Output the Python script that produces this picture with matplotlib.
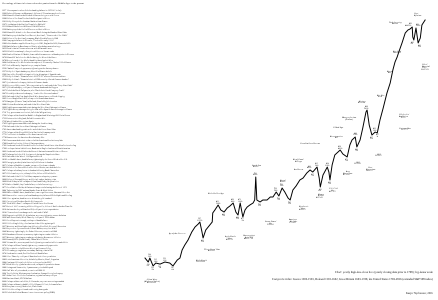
import numpy as np
from matplotlib import pyplot as plt

plt.rcParams['font.family'] = ['Liberation Serif', 'DejaVu Serif']
plt.rcParams['text.hinting'] = 'no_hinting'

W, H = 439, 300

title = "Chronology of financial crises and market panics from the Middle Ages to the present"

entries = [
    "1257 \"Overexpansion of credit led to banking failures in 1255-62\" in Italy",
    "1260 Defeat of Florence at Montaperti; failures of Florentine merchant houses",
    "1294 Edward I default to the Riccardi of Lucca during war with France",
    "1298 Failure of the Gran Tavola of the Bonsignori of Siena",
    "1301 Philip IV expels the Lombard bankers from France",
    "1307 Liquidation of the Knights Templar by Philip IV",
    "1311 Edward II default to the Frescobaldi of Florence",
    "1326 Bankruptcy of the Scali of Florence and Asti of Siena",
    "1340 Edward III default to the Peruzzi and Bardi during the Hundred Years' War",
    "1343 Bankruptcy of the Bardi and Peruzzi; Acciaiuoli, \"Great crash of the 1340s\"",
    "1346 Failure of the Acciaiuoli company; Black Death follows in 1348",
    "1360 Compagnie failures in Florence, \"Crash of the early 1360s\"",
    "1380 Italian bankers expelled from Aragon in 1381, England in 1403, France in 1410",
    "1399 Bank failures in Barcelona and Venice after debasement of coinage",
    "1433 Fiscal crisis in Florence after war with Milan and Lucca",
    "1453 Fall of Constantinople; disruption of Genoese Levant trade",
    "1464 Death of Cosimo de' Medici; loans called in cause wave of bankruptcies in Florence",
    "1470 Edward IV default to the Medici during the Wars of the Roses",
    "1478 Bruges branch of the Medici bank liquidated on bad debts",
    "1494 Overthrow of the Medici after the capture of Florence by Charles VIII of France",
    "1527 Sack of Rome by Imperial troops; coup in Genoa",
    "1539 Charles V suspends payments; tightening on the Antwerp bourse",
    "1557 Philip II of Spain bankruptcy; Henri II of France default",
    "1566 Start of the Dutch Revolt against Spain; disruption of Spanish trade",
    "1575 Philip II default: \"Financial crisis of 1575-76\" affected Genoese creditors",
    "1596 Philip II default: \"Financial crisis of 1596 severely affected Genoese bankers\"",
    "1607 Spanish state bankruptcy; failure of Genoese banks",
    "1619 Kipper und Wipperzeit: \"Monetary crisis at the outbreak of the Thirty Years' War\"",
    "1627 Spanish bankruptcy; collapse of Genoese banks and the Fuggers",
    "1637 End of the Dutch Tulipmania; also \"Dutch Joint Stock Company Crash\"",
    "1647 Fourth Spanish state bankruptcy; \"crushed the Genoese bankers\"",
    "1652 Outbreak of the First Anglo-Dutch War; heavy losses on Dutch shipping",
    "1665 Second Anglo-Dutch War; slump on the Amsterdam bourse",
    "1672 Rampjaar (Disaster Year) in Holland; French-English invasion",
    "1688 Glorious Revolution; outbreak of the Nine Years' War",
    "1696 English government debt crisis during the Nine Years' War against France",
    "1701 English money shortage during the War of the Spanish Succession against France",
    "1710 Tory government credit crisis; fall of the Whig ministry",
    "1720 Collapse of the South Sea Bubble in England and Mississippi Bubble in France",
    "1733 Excise crisis in England; Polish Succession War",
    "1739 War of Jenkins' Ear against Spain",
    "1745 English government debt crisis during the Jacobite rising",
    "1756 Outbreak of the Seven Years' War against France",
    "1763 Amsterdam banking crisis at the end of the Seven Years' War",
    "1772 Collapse of the Bengal Bubble in East India Company stock",
    "1773 Credit crisis in London and the American colonies",
    "1778 France enters the American Revolutionary War",
    "1783 Government debt crisis at the end of the American Revolutionary War",
    "1788 French fiscal crisis; failure of Paris speculators",
    "1792 Stocks and bonds fell in the First Panic of the United States after Hamilton's refunding",
    "1796 Land speculation bubble burst; Bank run in England on fear of French invasion",
    "1802 Stocks and bonds fell after the Peace of Amiens between Britain and France",
    "1807 Embargo Act halts U.S. foreign trade during the Napoleonic Wars",
    "1812 Outbreak of the War of 1812 against Britain",
    "1819 Land bubble burst; bank failures; tightening by the Second Bank of the U.S.",
    "1825 Emerging market (Latin America) bubble burst in London",
    "1837 Collapse of bubbles in canals, cotton and land; run on banks",
    "1841 Failure of the Second Bank of the United States; state debt defaults",
    "1847 Collapse of railway boom in London following Bank Charter Act",
    "1857 Global market panic; railway bubble; failure of Ohio Life Co.",
    "1861 Outbreak of the U.S. Civil War; suspension of specie payments",
    "1866 Failure of Overend Gurney and Co. in London; banking crisis",
    "1869 Black Friday in NY: collapse of Gould and Fisk gold speculation",
    "1873 Railroad bubble; Jay Cooke failure; end of silver coinage",
    "1877 Great Railroad Strike; deflation and wage cuts following the Panic of 1873",
    "1884 Tightening by NYC national banks; Grant & Ward failure",
    "1890 Railroad bubble burst; bank failures; run on gold reserves; Sherman Silver Act",
    "1893 Run on silver reserves; railroad bankruptcies; failure of Philadelphia and Reading",
    "1896 Silver agitation; bond issues to defend the gold standard",
    "1901 Cornering of Northern Pacific Railway stock",
    "1903 \"Rich Man's Panic\": collapse of United States Steel boom",
    "1907 Panic of 1907: cornering of United Copper Co; failure of Knickerbocker Trust Co.",
    "1910 Antitrust breakup of Standard Oil; collapse of cotton speculation",
    "1914 Closure of stock exchanges at the outbreak of WW1",
    "1920 Depression of 1920-21: disinflation, monetary tightening, severe deflation",
    "1929 Wall Street Crash, Black Thursday: collapse of 1920s boom",
    "1931 Great Depression trough; widespread bank failures",
    "1933 U.S. banking holiday; devaluation of the dollar against gold",
    "1937 Monetary and fiscal tightening following New Deal; Roosevelt Recession",
    "1941 Response to Japanese attack on Pearl Harbor; entry into WW2",
    "1946 Monetary tightening by the Federal Reserve; recession of 1949",
    "1953 Eisenhower Recession; monetary tightening to combat inflation",
    "1957 Monetary tightening to combat growth during Korean war inflation",
    "1962 Kennedy Slide (Flash Crash); Cuban Missile Crisis",
    "1966 Vietnam War; monetary and fiscal tightening to combat inflation and deficit",
    "1970 Collapse of Penn Central; tight money; commercial paper crisis",
    "1971 Nixon shock: end of Bretton Woods gold convertibility",
    "1973 Oil embargo; stagflation; secondary banking crisis in UK",
    "1974 Stock market crash; Franklin National Bank failure",
    "1980 Silver Thursday: collapse of Hunt brothers' silver speculation",
    "1982 Latin American debt crisis; defaults by Mexico, Brazil, Argentina",
    "1984 Continental Illinois bank failure and rescue by the FDIC",
    "1987 Black Monday: global market crash; collapse of speculative boom",
    "1989 Savings and Loan crisis; Japanese asset price bubble peak",
    "1990 Gulf War: oil price shock; recession of 1990-91",
    "1994 Tequila Crisis: Mexican peso devaluation; Orange County bankruptcy",
    "1997 Asian Crisis: Thai baht devaluation; regional currency collapse",
    "1998 Russian default; LTCM bailout",
    "2000 Collapse of dotcom bubble; 9/11 attacks; corporate accounting scandals",
    "2008 Collapse of housing bubble; Global Financial Crisis; Lehman failure",
    "2010 European sovereign debt crisis; Flash Crash",
    "2011 U.S. debt ceiling crisis and credit rating downgrade",
    "2015 End of the Federal Reserve's zero interest rate policy (ZIRP)",
]

# composite index (log scale)
years = [1495, 1501, 1504, 1510, 1515, 1523, 1532, 1541, 1547, 1555, 1560, 1564,
         1569, 1575, 1582, 1588, 1594, 1597, 1601, 1603, 1608, 1614, 1620, 1621,
         1625, 1631, 1636, 1642, 1648, 1653, 1659, 1664, 1668, 1672, 1677, 1681,
         1685, 1690, 1696, 1699, 1701, 1703, 1709, 1714, 1722, 1728, 1733, 1739,
         1744, 1750, 1755, 1761, 1765, 1770, 1776, 1783, 1789, 1796, 1802, 1807,
         1815, 1819, 1821, 1826, 1834, 1837, 1839, 1843, 1848, 1854, 1858, 1863,
         1871, 1876, 1880, 1886, 1889, 1895, 1900, 1906, 1908, 1912, 1917, 1923,
         1927, 1932, 1938, 1945, 1951, 1956, 1960, 1964, 1967, 1973, 1979, 1984,
         1988, 1992, 1993, 1995, 1999, 2003, 2007, 2010, 2016]
index = [1.12, 0.89, 1.12, 0.71, 0.84, 0.79, 0.89, 0.84, 0.71, 1.0, 1.12, 1.78,
         2.37, 3.16, 5.01, 6.68, 7.94, 8.91, 5.01, 3.55, 5.62, 7.08, 8.91, 15.0,
         17.8, 23.7, 17.8, 15.8, 20.0, 22.4, 26.6, 15.8, 13.3, 26.6, 11.9, 17.8,
         21.1, 23.7, 26.6, 31.6, 119, 31.6, 28.2, 31.6, 31.6, 37.6, 37.6, 50.1,
         39.8, 63.1, 50.1, 35.5, 31.6, 56.2, 70.8, 100, 112, 150, 178, 158,
         211, 112, 66.8, 133, 211, 158, 100, 237, 422, 501, 562, 447,
         376, 750, 1000, 1190, 668, 1000, 1990, 5010, 5620, 2370, 1330, 1580,
         1500, 3160, 6310, 14960, 26600, 56200, 89100, 119000, 158000, 266000, 473000, 562000,
         596000, 668000, 376000, 316000, 631000, 266000, 355000, 750000, 1000000]

eras = [
    (152, 281, "Italian Wars\n(Habsburg-Valois)\n1494-1559"),
    (177, 233, "Age of the Genoese"),
    (201, 261, "Dutch Revolt\n1568-1648"),
    (212, 250, "Thirty Years' War\n1618-48"),
    (215, 193, "Dutch Golden Age"),
    (230, 238, "Anglo-Dutch\nWars\n1652-74"),
    (249, 237, "Wars against\nLouis XIV\n1688-1714"),
    (256, 166, "South Sea\nBubble"),
    (283, 181, "Bengal\nBubble"),
    (271, 223, "Seven Years'\nWar\n1756-63"),
    (293, 221, "American\nRev. War\n1775-83"),
    (303, 208, "Napoleonic\nWars\n1803-15"),
    (298, 169, "Land boom"),
    (298, 160, "Era of Good\nFeelings"),
    (310, 144, "Canal/railroad booms"),
    (320, 196, "Hungry\nForties\n1837-43"),
    (333, 190, "U.S. Civil\nWar\n1861-65"),
    (336, 137, "Reconstruction\nEra"),
    (338, 127, "Gilded Age"),
    (347, 173, "Long\nDepression\n1873-96"),
    (349, 118, "Mass production\n(Fordism)"),
    (358, 163, "WWI\n1914-18"),
    (362, 102, "Roaring\nTwenties"),
    (370, 169, "Great\nDepression\n1929-32"),
    (379, 155, "WW2\n1939-45"),
    (380, 96, "Post-War\nboom"),
    (389, 72, "Reagan\nEra"),
    (397, 52, "Post-Cold\nWar Era"),
    (404, 116, "Oil shocks/\nStagflation\n1970s"),
    (405, 129, "Vietnam War\n1965-73"),
    (395, 23, "Tech, housing\nbubbles"),
    (417, 14, "Great\nReflation"),
    (425, 67, "Global\nFinancial\nCrisis\n2007-09"),
]

fig = plt.figure(figsize=(W / 100, H / 100), dpi=100)
fig.patch.set_facecolor('white')

# left column: chronology list
fig.text(2 / W, 1 - 3.5 / H, title, fontsize=1.75, va='center', ha='left')
step = (292 - 10) / (len(entries) - 1)
for i, s in enumerate(entries):
    fig.text(2 / W, 1 - (10 + i * step) / H, s, fontsize=1.42, va='center', ha='left')

# chart
ax = fig.add_axes([0, 0, 1, 1])
ax.set_yscale('log')
ax.set_xlim(1225.3, 2041.8)
ax.set_ylim(0.1, 10 ** 6.5)
ax.axis('off')
ax.plot(years, index, color='black', lw=0.7)

# label the turning points with year and change since the previous one
yrs = np.array(years)
vals = np.array(index, dtype=float)
turns = []
for i in range(1, len(vals) - 1):
    if vals[i] > vals[i - 1] and vals[i] > vals[i + 1]:
        turns.append((i, True))
    elif vals[i] < vals[i - 1] and vals[i] < vals[i + 1]:
        turns.append((i, False))

last = vals[0]
for k, (i, peak) in enumerate(turns):
    pct = (vals[i] / last - 1) * 100
    last = vals[i]
    same = [j for j, p in turns if p == peak]
    pos = same.index(i)
    ha, dx = 'center', 0
    if pos + 1 < len(same) and yrs[same[pos + 1]] - yrs[i] < 9:
        ha, dx = 'right', 0.3
    elif pos > 0 and yrs[i] - yrs[same[pos - 1]] < 9:
        ha, dx = 'left', -0.3
    ax.annotate(f"{yrs[i]}\n{pct:+.0f}%", (yrs[i], vals[i]),
                xytext=(dx, 0.8 if peak else -0.8), textcoords='offset points',
                ha=ha, va='bottom' if peak else 'top',
                fontsize=1.4, linespacing=0.9)

for x, y, s in eras:
    fig.text(x / W, 1 - y / H, s, fontsize=1.6, style='italic',
             ha='center', va='center', linespacing=1.0)

fig.text(433 / W, 1 - 271.5 / H,
         "Chart: yearly high-low-close bars (yearly closing data prior to 1700); log-linear scale",
         fontsize=2.1, ha='right', va='center')
fig.text(433 / W, 1 - 278.5 / H,
         "Composite index: Genoa 1300-1501, Holland 1502-1692, Great Britain 1693-1788, "
         "the United States 1789-2016 (extended S&P 500 index)",
         fontsize=2.1, ha='right', va='center')
fig.text(433 / W, 1 - 293 / H, "Kasper Nydbeweer, 2016", fontsize=1.9, ha='right', va='center')

fig.savefig('out.png', dpi=100)
